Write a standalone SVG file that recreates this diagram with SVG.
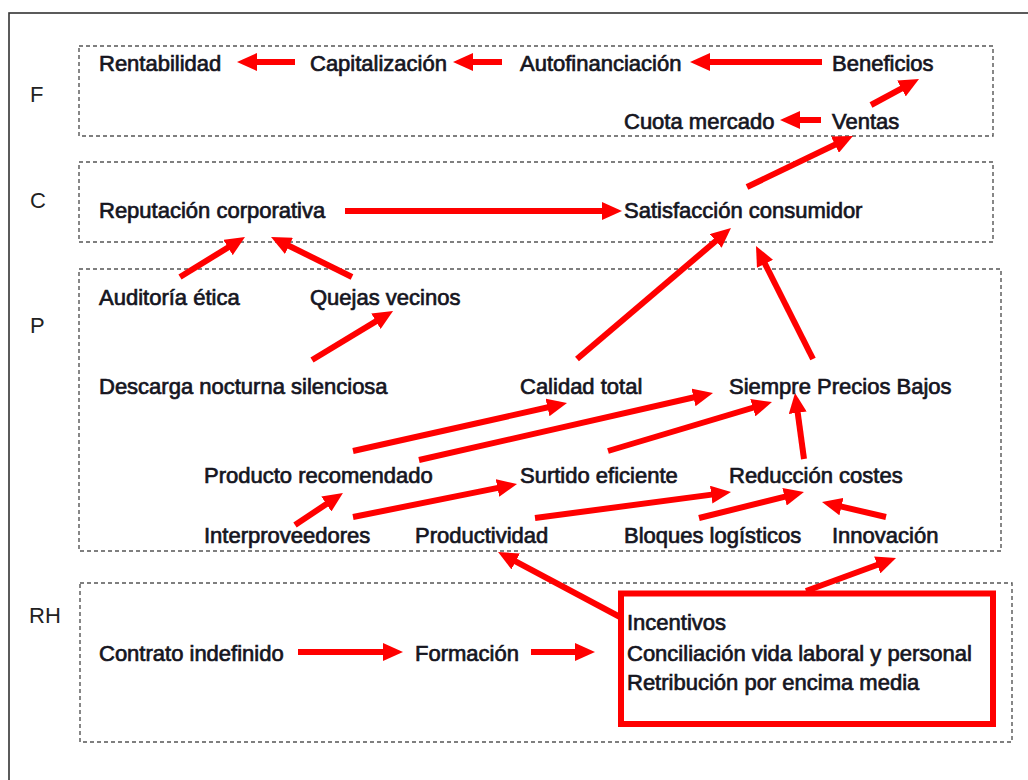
<svg xmlns="http://www.w3.org/2000/svg" width="1028" height="780" viewBox="0 0 1028 780">
<style>
.t{font-family:"Liberation Sans",Arial,sans-serif;font-size:22px;fill:#16161f;stroke:#16161f;stroke-width:0.7}
.lbl{font-family:"Liberation Sans",Arial,sans-serif;font-size:22px;fill:#222}
.zone{fill:none;stroke:#555;stroke-width:1.4;stroke-dasharray:4 3}
.c{stroke:#ff0000;stroke-width:6;fill:none;marker-end:url(#ah)}
</style>
<defs>
<marker id="ah" markerUnits="userSpaceOnUse" viewBox="0 0 20 18" markerWidth="20" markerHeight="18" refX="12" refY="9" orient="auto">
<path d="M0,0 L20,9 L0,18 z" fill="#ff0000"/>
</marker>
</defs>
<rect width="1028" height="780" fill="#fff"/>
<rect x="9" y="13" width="1030" height="780" fill="none" stroke="#333" stroke-width="1.6"/>
<g id="zones">
<rect class="zone" x="79" y="46" width="914" height="90"/>
<rect class="zone" x="79" y="162" width="914" height="80"/>
<rect class="zone" x="79" y="269" width="922" height="282"/>
<rect class="zone" x="80" y="583" width="932" height="159"/>
<text class="lbl" x="30" y="102">F</text>
<text class="lbl" x="30" y="208">C</text>
<text class="lbl" x="30" y="333">P</text>
<text class="lbl" x="29" y="623">RH</text>
</g>
<g id="connectors">
<line class="c" x1="295" y1="62" x2="245" y2="62"/>
<line class="c" x1="502" y1="62" x2="461" y2="62"/>
<line class="c" x1="822" y1="62" x2="698" y2="62"/>
<line class="c" x1="871" y1="105" x2="912" y2="82.8"/>
<line class="c" x1="821" y1="120" x2="788" y2="120"/>
<line class="c" x1="747" y1="187" x2="845.8" y2="139.5"/>
<line class="c" x1="345" y1="211" x2="614" y2="211"/>
<line class="c" x1="180" y1="277" x2="238.2" y2="241.2"/>
<line class="c" x1="352" y1="277" x2="278.2" y2="240.5"/>
<line class="c" x1="312" y1="360" x2="386.2" y2="315.1"/>
<line class="c" x1="577" y1="359" x2="724.9" y2="233.2"/>
<line class="c" x1="813" y1="359" x2="759.6" y2="253.1"/>
<line class="c" x1="353" y1="451" x2="559.2" y2="404.8"/>
<line class="c" x1="419" y1="460" x2="705.2" y2="394.8"/>
<line class="c" x1="608" y1="451" x2="764.3" y2="404.3"/>
<line class="c" x1="804" y1="459" x2="796.1" y2="400.9"/>
<line class="c" x1="295" y1="525" x2="336.3" y2="497.4"/>
<line class="c" x1="353" y1="517" x2="509.2" y2="485.6"/>
<line class="c" x1="535" y1="518" x2="723.1" y2="493.1"/>
<line class="c" x1="699" y1="518" x2="796.2" y2="493.9"/>
<line class="c" x1="886" y1="517" x2="829.8" y2="503.8"/>
<line class="c" x1="620" y1="617" x2="505.1" y2="555.8"/>
<line class="c" x1="806" y1="591" x2="888.5" y2="560.8"/>
<line class="c" x1="298" y1="652" x2="395" y2="652"/>
<line class="c" x1="531" y1="652" x2="587" y2="652"/>
</g>
<g id="n-rentabilidad"><text class="t" x="99" y="71">Rentabilidad</text></g>
<g id="n-capitalizacion"><text class="t" x="310" y="71">Capitalización</text></g>
<g id="n-autofinanciacion"><text class="t" x="520" y="71">Autofinanciación</text></g>
<g id="n-beneficios"><text class="t" x="832" y="71">Beneficios</text></g>
<g id="n-cuota"><text class="t" x="624" y="129">Cuota mercado</text></g>
<g id="n-ventas"><text class="t" x="832" y="129">Ventas</text></g>
<g id="n-reputacion"><text class="t" x="99" y="218">Reputación corporativa</text></g>
<g id="n-satisfaccion"><text class="t" x="624" y="218">Satisfacción consumidor</text></g>
<g id="n-auditoria"><text class="t" x="99" y="305">Auditoría ética</text></g>
<g id="n-quejas"><text class="t" x="310" y="305">Quejas vecinos</text></g>
<g id="n-descarga"><text class="t" x="99" y="394">Descarga nocturna silenciosa</text></g>
<g id="n-calidad"><text class="t" x="520" y="394">Calidad total</text></g>
<g id="n-siempre"><text class="t" x="729" y="394">Siempre Precios Bajos</text></g>
<g id="n-producto"><text class="t" x="204" y="483">Producto recomendado</text></g>
<g id="n-surtido"><text class="t" x="520" y="483">Surtido eficiente</text></g>
<g id="n-reduccion"><text class="t" x="729" y="483">Reducción costes</text></g>
<g id="n-interproveedores"><text class="t" x="204" y="543">Interproveedores</text></g>
<g id="n-productividad"><text class="t" x="415" y="543">Productividad</text></g>
<g id="n-bloques"><text class="t" x="624" y="543">Bloques logísticos</text></g>
<g id="n-innovacion"><text class="t" x="832" y="543">Innovación</text></g>
<g id="n-contrato"><text class="t" x="99" y="661">Contrato indefinido</text></g>
<g id="n-formacion"><text class="t" x="415" y="661">Formación</text></g>
<g id="n-incentivos">
<rect x="621" y="593.5" width="372" height="130.5" fill="none" stroke="#ff0000" stroke-width="6"/>
<text class="t" x="627" y="630">Incentivos</text>
<text class="t" x="627" y="661">Conciliación vida laboral y personal</text>
<text class="t" x="627" y="690">Retribución por encima media</text>
</g>
</svg>
